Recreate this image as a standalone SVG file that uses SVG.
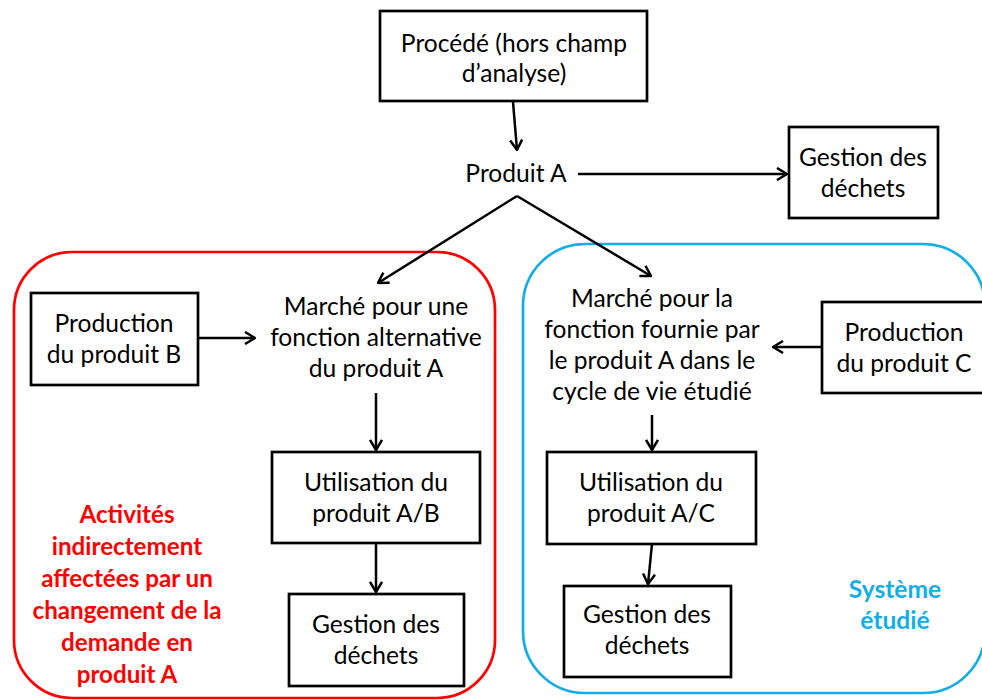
<svg xmlns="http://www.w3.org/2000/svg" width="982" height="700" viewBox="0 0 982 700">
  <defs>
    <marker id="arrow" viewBox="0 0 12 14" refX="11" refY="7" markerWidth="12" markerHeight="14" markerUnits="userSpaceOnUse" orient="auto">
      <path d="M1,1 L11,7 L1,13" fill="none" stroke="#000" stroke-width="2.5" stroke-linejoin="miter"/>
    </marker>
  </defs>
  <style>
    .box { fill: #fff; stroke: #000; stroke-width: 2.7; }
    .lbl { font-family: Lato, "Liberation Sans", sans-serif; font-size: 24.6px; fill: #000; text-anchor: middle; }
    .edge { fill: none; stroke: #000; stroke-width: 2.5; marker-end: url(#arrow); }
    .red { font-family: Lato, "Liberation Sans", sans-serif; font-size: 24.2px; font-weight: bold; fill: #ff0000; text-anchor: middle; }
    .blue { font-family: Lato, "Liberation Sans", sans-serif; font-size: 24.6px; font-weight: bold; fill: #13aee8; text-anchor: middle; }
  </style>
  <rect width="982" height="700" fill="#fff"/>

  <!-- system boundaries -->
  <g id="zone-indirect">
    <rect x="14" y="252" width="481" height="446" rx="58" ry="58" fill="none" stroke="#ff0000" stroke-width="2.7"/>
    <text class="red" x="127" y="523">Activités</text>
    <text class="red" x="127" y="555">indirectement</text>
    <text class="red" x="127" y="587">affectées par un</text>
    <text class="red" x="127" y="619">changement de la</text>
    <text class="red" x="127" y="651">demande en</text>
    <text class="red" x="127" y="683">produit A</text>
  </g>
  <g id="zone-system">
    <rect x="523" y="244" width="462" height="449" rx="62" ry="62" fill="none" stroke="#13aee8" stroke-width="2.7"/>
    <text class="blue" x="895" y="598">Système</text>
    <text class="blue" x="895" y="629">étudié</text>
  </g>

  <!-- connectors -->
  <g id="connectors">
    <line class="edge" x1="513" y1="102" x2="517" y2="150"/>
    <line class="edge" x1="578" y1="174" x2="787" y2="174"/>
    <polyline class="edge" points="517,196 378,283"/>
    <polyline class="edge" points="517,196 651,276"/>
    <line class="edge" x1="198" y1="338" x2="255" y2="338"/>
    <line class="edge" x1="822" y1="347" x2="773" y2="347"/>
    <line class="edge" x1="376" y1="393" x2="376" y2="450"/>
    <line class="edge" x1="376" y1="543" x2="376" y2="592"/>
    <line class="edge" x1="652" y1="415" x2="652" y2="450"/>
    <line class="edge" x1="652" y1="544" x2="648" y2="584"/>
  </g>

  <!-- nodes -->
  <g id="procede">
    <rect class="box" x="380" y="11" width="267" height="90"/>
    <text class="lbl" x="514" y="52">Procédé (hors champ</text>
    <text class="lbl" x="514" y="82">d’analyse)</text>
  </g>
  <g id="produit-a">
    <text class="lbl" x="516" y="182">Produit A</text>
  </g>
  <g id="gestion-top">
    <rect class="box" x="789" y="127" width="149" height="91"/>
    <text class="lbl" x="863" y="166">Gestion des</text>
    <text class="lbl" x="863" y="197">déchets</text>
  </g>
  <g id="production-b">
    <rect class="box" x="31" y="293" width="167" height="92"/>
    <text class="lbl" x="114" y="332">Production</text>
    <text class="lbl" x="114" y="363">du produit B</text>
  </g>
  <g id="marche-alternatif">
    <text class="lbl" x="376" y="315">Marché pour une</text>
    <text class="lbl" x="376" y="346">fonction alternative</text>
    <text class="lbl" x="376" y="377">du produit A</text>
  </g>
  <g id="utilisation-ab">
    <rect class="box" x="272" y="452" width="208" height="91"/>
    <text class="lbl" x="376" y="491">Utilisation du</text>
    <text class="lbl" x="376" y="522">produit A/B</text>
  </g>
  <g id="gestion-b">
    <rect class="box" x="289" y="594" width="175" height="92"/>
    <text class="lbl" x="376" y="633">Gestion des</text>
    <text class="lbl" x="376" y="664">déchets</text>
  </g>
  <g id="marche-etudie">
    <text class="lbl" x="652" y="307">Marché pour la</text>
    <text class="lbl" x="652" y="338">fonction fournie par</text>
    <text class="lbl" x="652" y="369">le produit A dans le</text>
    <text class="lbl" x="652" y="400">cycle de vie étudié</text>
  </g>
  <g id="production-c">
    <rect class="box" x="822" y="302" width="162" height="91"/>
    <text class="lbl" x="904" y="341">Production</text>
    <text class="lbl" x="904" y="372">du produit C</text>
  </g>
  <g id="utilisation-ac">
    <rect class="box" x="547" y="452" width="209" height="92"/>
    <text class="lbl" x="651" y="491">Utilisation du</text>
    <text class="lbl" x="651" y="522">produit A/C</text>
  </g>
  <g id="gestion-c">
    <rect class="box" x="564" y="586" width="167" height="91"/>
    <text class="lbl" x="647" y="623">Gestion des</text>
    <text class="lbl" x="647" y="654">déchets</text>
  </g>
</svg>
